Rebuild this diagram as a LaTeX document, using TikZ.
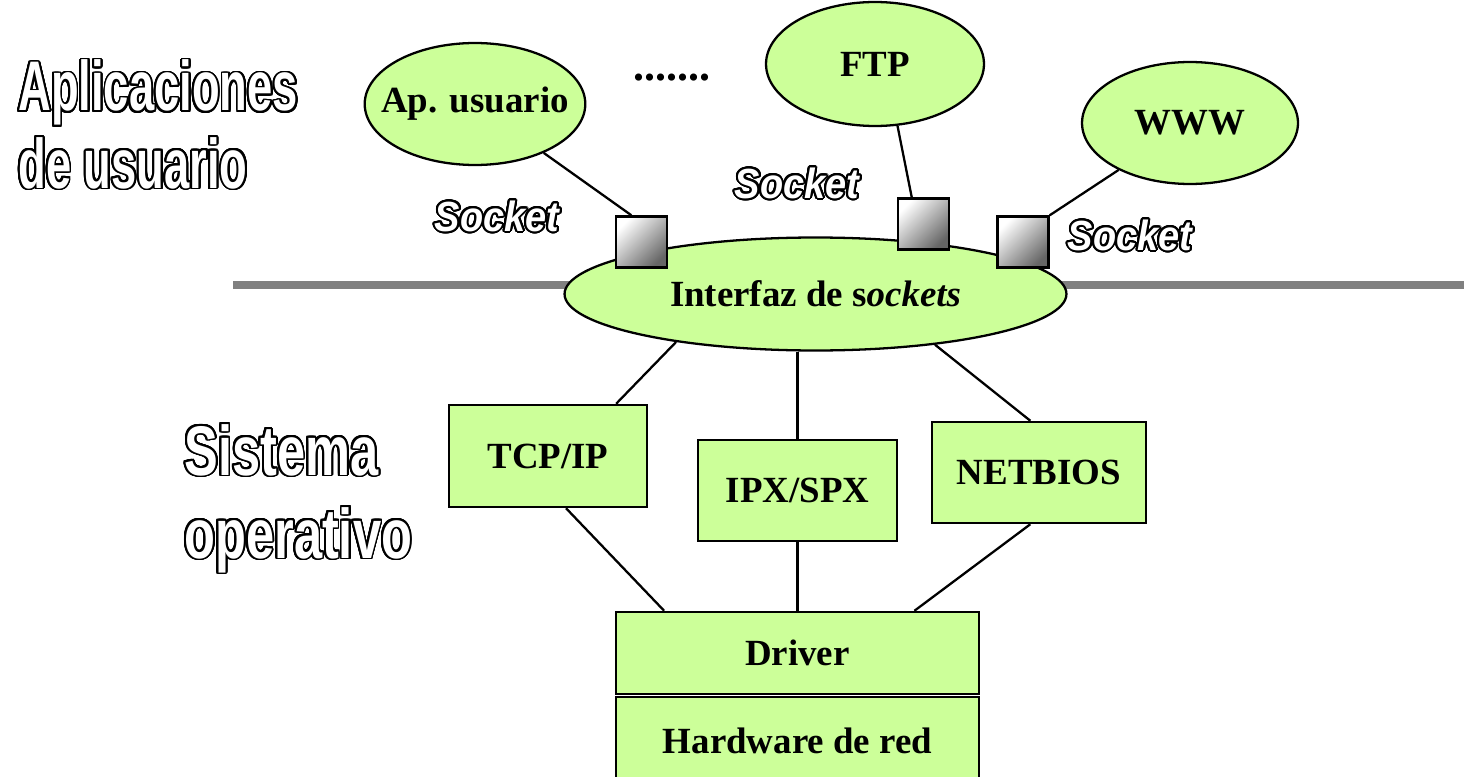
\documentclass[tikz,border=0pt]{standalone}
\usepackage{fontspec}
\usepackage{contour}
\setmainfont{Liberation Serif}
\newfontfamily\titlefont[FakeStretch=0.645]{Liberation Sans}
\newfontfamily\titlefontb[FakeStretch=0.72]{Liberation Sans}
\newfontfamily\sockfont[FakeStretch=0.9]{Liberation Sans}
\usetikzlibrary{shapes.geometric,calc}
\definecolor{lgreen}{RGB}{204,255,153}
\definecolor{lgray}{RGB}{128,128,128}
\contournumber{32}
\newcommand{\outl}[1]{{\color{white}\contour{black}{#1}}}
\tikzset{
  app/.style={ellipse,draw=black,line width=1.3pt,fill=lgreen,inner sep=0pt,font=\fontsize{21}{24}\selectfont\bfseries},
  layerbox/.style={rectangle,draw=black,line width=1.4pt,fill=lgreen,inner sep=0pt,font=\fontsize{21}{24}\selectfont\bfseries},
  sockbox/.style={rectangle,draw=black,line width=1.4pt,minimum width=1.02cm,minimum height=1.02cm,inner sep=0pt,top color=white,bottom color=black!60,shading angle=45},
  conn/.style={draw=black,line width=1.3pt},
  title/.style={inner sep=0pt,anchor=base west,font=\titlefont\fontsize{40}{44}\selectfont\bfseries\contourlength{1.05pt}},
  titleb/.style={inner sep=0pt,anchor=base west,font=\titlefontb\fontsize{40}{44}\selectfont\bfseries\contourlength{1.05pt}},
  socklbl/.style={inner sep=0pt,font=\sockfont\fontsize{24}{28}\selectfont\bfseries\itshape\contourlength{1.1pt}},
}
\begin{document}
\begin{tikzpicture}[x=0.02cm,y=-0.02cm]
\useasboundingbox (0,0) rectangle (1464,777);
\begin{scope}
\clip (0,0) rectangle (1464,777);
% grey separator
\coordinate (gl) at (233,285);
\coordinate (gr) at (1464,285);
\draw[lgray,line width=4.5pt] (gl) -- (gr);

% titles
\node[title] (t1) at (18,111) {\outl{Aplicaciones}};
\node[title] (t2) at (18,188) {\outl{de usuario}};
\node[titleb] (t3) at (184,475) {\outl{Sistema}};
\node[titleb] (t4) at (184,558) {\outl{operativo}};

% applications
\node[app,inner xsep=-9pt,minimum width=4.34cm,minimum height=2.44cm] (apu) at (475,104) {Ap. usuario};
\node[app,minimum width=4.36cm,minimum height=2.48cm] (ftp) at (875,64) {FTP};
\node[app,minimum width=4.32cm,minimum height=2.44cm] (www) at (1190,123) {WWW};
\node[inner sep=0pt,font=\fontsize{25}{28}\selectfont\bfseries] (dots) at (672,78) {.......};

% socket interface
\node[app,minimum width=10.04cm,minimum height=2.26cm] (iface) at (815.5,294) {Interfaz de s\textit{ockets}};

% sockets
\node[sockbox] (s1) at (641.5,242) {};
\node[sockbox] (s2) at (923.5,224) {};
\node[sockbox] (s3) at (1023,242) {};

\node[socklbl] (l1) at (497,217) {\outl{Socket}};
\node[socklbl] (l2) at (797,184) {\outl{Socket}};
\node[socklbl] (l3) at (1130,236) {\outl{Socket}};

\draw[conn] (apu) -- ($(s1.north west)!0.31!(s1.north east)$);
\draw[conn] (ftp.-70) -- ($(s2.north west)!0.28!(s2.north east)$);
\draw[conn] (www) -- (s3.north east);

% protocol boxes
\node[layerbox,minimum width=3.96cm,minimum height=2.04cm] (tcp) at (548,456) {TCP/IP};
\node[layerbox,minimum width=3.98cm,minimum height=2.02cm] (ipx) at (797.5,490.5) {IPX/SPX};
\node[layerbox,minimum width=4.28cm,minimum height=2.02cm] (net) at (1039,472.5) {NETBIOS};

\draw[conn] (iface.199) -- ($(tcp.north west)!0.84!(tcp.north east)$);
\draw[conn] (ipx.north) -- (ipx.north |- iface.south);
\draw[conn] (iface.337) -- ($(net.north west)!0.46!(net.north east)$);

% driver and hardware
\node[layerbox,minimum width=7.26cm,minimum height=1.64cm] (drv) at (797.5,653) {Driver};
\node[layerbox,minimum width=7.26cm,minimum height=2.06cm] (hw) at (797.5,748.5) {};
\node[inner sep=0pt,font=\fontsize{21}{24}\selectfont\bfseries] (hwl) at (797.5,741) {Hardware de red};

\draw[conn] ($(tcp.south west)!0.59!(tcp.south east)$) -- ($(drv.north west)!0.135!(drv.north east)$);
\draw[conn] (ipx.south) -- (ipx.south |- drv.north);
\draw[conn] ($(net.south west)!0.46!(net.south east)$) -- ($(drv.north west)!0.82!(drv.north east)$);
\end{scope}
\end{tikzpicture}
\end{document}
